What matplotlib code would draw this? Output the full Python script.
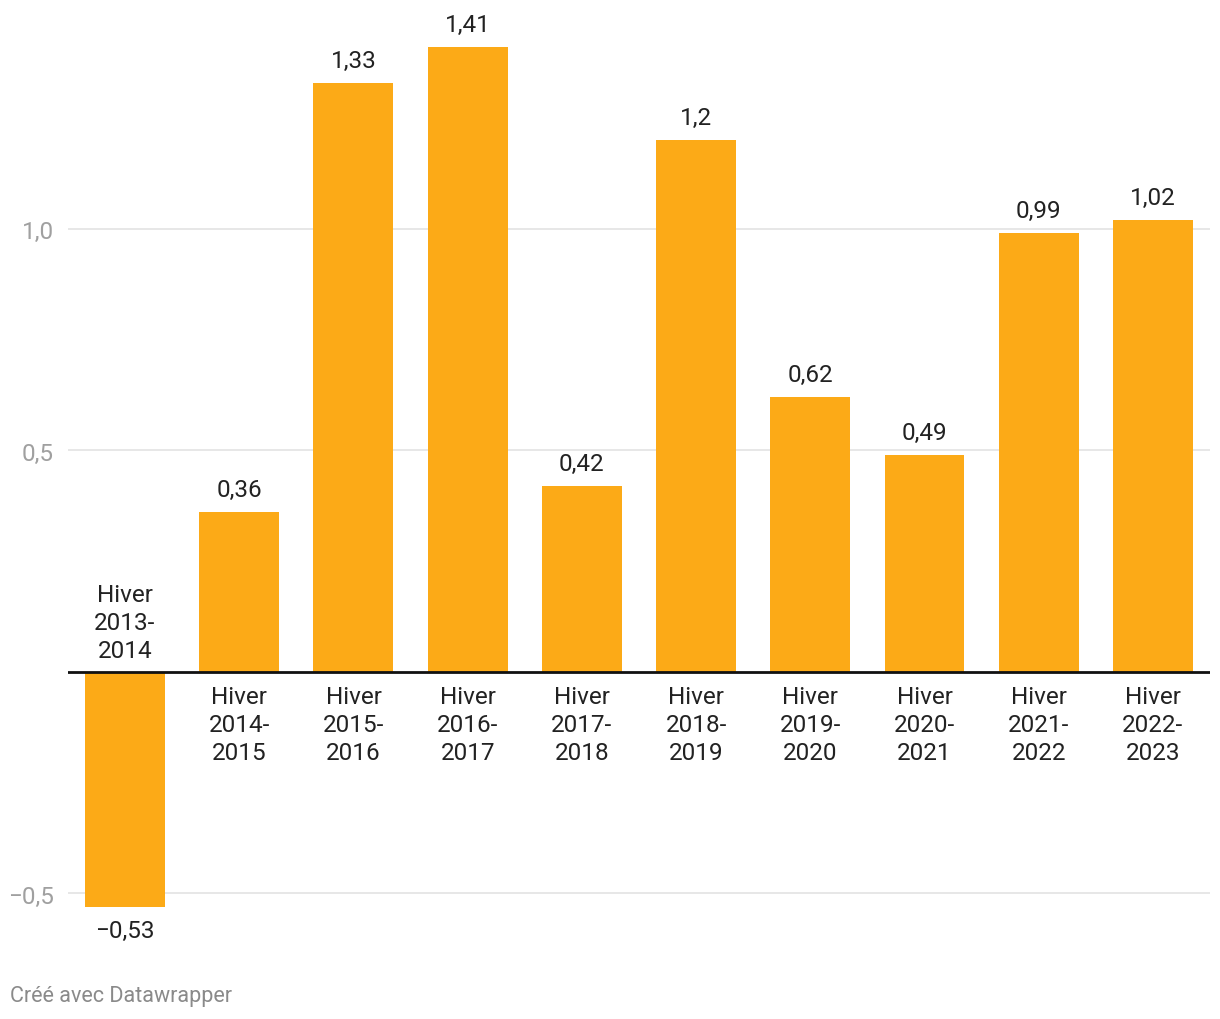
import matplotlib
matplotlib.use('Agg')
import matplotlib.pyplot as plt
import numpy as np

plt.rcParams['font.family'] = ['Roboto', 'DejaVu Sans']

# data
seasons = ['Hiver\n2013-\n2014', 'Hiver\n2014-\n2015', 'Hiver\n2015-\n2016', 'Hiver\n2016-\n2017',
           'Hiver\n2017-\n2018', 'Hiver\n2018-\n2019', 'Hiver\n2019-\n2020', 'Hiver\n2020-\n2021',
           'Hiver\n2021-\n2022', 'Hiver\n2022-\n2023']
values = [-0.53, 0.36, 1.33, 1.41, 0.42, 1.2, 0.62, 0.49, 0.99, 1.02]
value_labels = ['−0,53', '0,36', '1,33', '1,41', '0,42', '1,2', '0,62', '0,49', '0,99', '1,02']
yticks = [-0.5, 0.5, 1.0]
ytick_labels = ['−0,5', '0,5', '1,0']

bar_color = '#fcaa17'
text_color = '#222222'
fs = 17.5

fig = plt.figure(figsize=(12.2, 10.2), dpi=100)
ax = fig.add_axes([0.0557, 0.0666, 0.9361, 0.9251])

x = np.arange(len(values))
ax.bar(x, values, width=0.7, color=bar_color, zorder=2)

ax.set_xlim(-0.5, len(values) - 0.5)
ax.set_ylim(-0.63, 1.5)

ax.set_yticks(yticks)
ax.set_yticklabels(ytick_labels, fontsize=fs, color='#a0a0a0')
ax.tick_params(axis='y', length=0, pad=10)
ax.set_xticks([])
ax.grid(axis='y', color='#e3e3e3', linewidth=1.2, zorder=0)
ax.axhline(0, color='#111111', linewidth=2, zorder=3)

for s in ax.spines.values():
    s.set_visible(False)

for xi, v, lab, cat in zip(x, values, value_labels, seasons):
    if v >= 0:
        ax.annotate(lab, (xi, v), xytext=(0, 8), textcoords='offset points',
                    ha='center', va='bottom', fontsize=fs, color=text_color)
        ax.annotate(cat, (xi, 0), xytext=(0, -9.5), textcoords='offset points',
                    ha='center', va='top', fontsize=fs, color=text_color, linespacing=1.28)
    else:
        ax.annotate(lab, (xi, v), xytext=(0, -9), textcoords='offset points',
                    ha='center', va='top', fontsize=fs, color=text_color)
        ax.annotate(cat, (xi, 0), xytext=(0, 7), textcoords='offset points',
                    ha='center', va='bottom', fontsize=fs, color=text_color, linespacing=1.28)

fig.text(10 / 1220, 1 - 997 / 1020, 'Créé avec Datawrapper', fontsize=15.5, color='#8a8a8a',
         ha='left', va='center')

fig.savefig('out.png', dpi=100)
